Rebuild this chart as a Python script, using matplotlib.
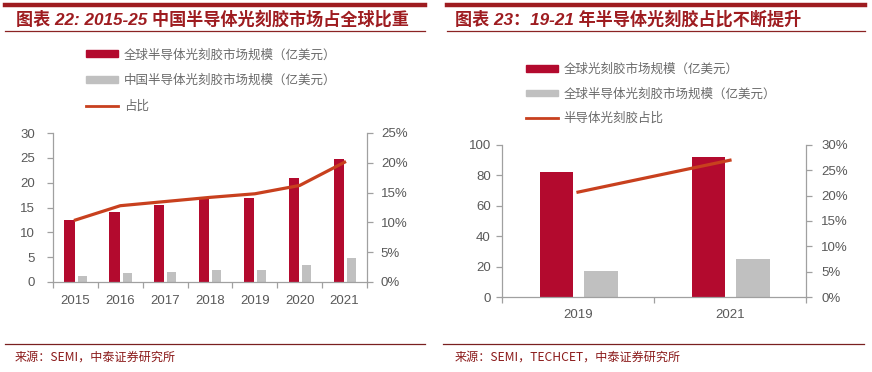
import numpy as np
import matplotlib.pyplot as plt
from matplotlib.lines import Line2D
from matplotlib.patches import Patch
from matplotlib.ticker import PercentFormatter

plt.rcParams['font.family'] = ['Liberation Sans', 'Noto Sans CJK SC', 'DejaVu Sans']

# left chart data
years_l = ["2015", "2016", "2017", "2018", "2019", "2020", "2021"]
global_l = [12.5, 14.0, 15.5, 17.0, 17.0, 21.0, 24.7]
china_l = [1.2, 1.8, 2.1, 2.5, 2.5, 3.4, 4.9]
share_l = [10.4, 12.8, 13.5, 14.2, 14.8, 16.2, 20.1]

# right chart data
years_r = ["2019", "2021"]
resist_r = [82, 92]
semi_r = [17, 25]
share_r = [20.7, 27.0]

RED = "#B30A2E"
GRAY = "#C0C0C0"
LINE = "#C8401E"
TXT = "#595959"
LEGTXT = "#6A6A6A"
SPINE = "#A0A0A0"
TITLE = "#9E1C20"

W, H = 872, 372
fig = plt.figure(figsize=(W / 100, H / 100), dpi=100)


def box(x0, y0, x1, y1):
    # pixel box (top-left origin) -> figure fraction rect
    return [x0 / W, 1 - y1 / H, (x1 - x0) / W, (y1 - y0) / H]


def hline(x0, x1, y, lw, color):
    fig.add_artist(Line2D([x0 / W, x1 / W], [1 - y / H, 1 - y / H],
                          transform=fig.transFigure, lw=lw, color=color))


def style(ax, ax2, n, ypad, rpad):
    for a in (ax, ax2):
        a.spines["top"].set_visible(False)
        for s in ("left", "right", "bottom"):
            a.spines[s].set_color(SPINE)
            a.spines[s].set_linewidth(0.9)
    ax.spines["right"].set_visible(False)
    ax2.spines["left"].set_visible(False)
    ax2.spines["bottom"].set_visible(False)
    ax.set_xlim(-0.5, n - 0.5)
    ax.set_xticks(np.arange(n))
    ax.set_xticks(np.arange(n + 1) - 0.5, minor=True)
    ax.tick_params(axis="x", which="major", length=0, pad=9,
                   labelsize=9.5, labelcolor=TXT)
    ax.tick_params(axis="x", which="minor", length=4, color=SPINE, width=0.9)
    ax.tick_params(axis="y", length=4, color=SPINE, width=0.9, pad=ypad,
                   labelsize=9.5, labelcolor=TXT)
    ax2.tick_params(axis="y", length=4, color=SPINE, width=0.9, pad=rpad,
                    labelsize=9.5, labelcolor=TXT)
    ax2.yaxis.set_major_formatter(PercentFormatter(decimals=0))


def legend(labels, x, y, spacing):
    fig.legend([Patch(color=RED), Patch(color=GRAY), Line2D([], [], color=LINE, lw=2)],
               labels, loc="upper left", bbox_to_anchor=(x / W, 1 - y / H),
               frameon=False, prop={"family": "Noto Sans CJK SC", "size": 9},
               labelcolor=LEGTXT, handlelength=2.5, handleheight=0.45,
               handletextpad=0.5, labelspacing=spacing)


# ---------- left panel ----------
ax = fig.add_axes(box(53, 133, 367, 282))
ax2 = ax.twinx()
x = np.arange(len(years_l))
ax.bar(x - 0.13, global_l, width=0.23, color=RED, zorder=2)
ax.bar(x + 0.15, china_l, width=0.20, color=GRAY, zorder=2)
ax2.plot(x, share_l, color=LINE, lw=2.3, zorder=3)
ax.set_ylim(0, 30)
ax.set_yticks(range(0, 31, 5))
ax2.set_ylim(0, 25)
ax2.set_yticks(range(0, 26, 5))
ax.set_xticklabels(years_l)
style(ax, ax2, len(years_l), 9, 6)

legend(["全球半导体光刻胶市场规模（亿美元）", "中国半导体光刻胶市场规模（亿美元）", "占比"],
       75, 37, 1.02)

# ---------- right panel ----------
bx = fig.add_axes(box(502, 145, 806, 297))
bx2 = bx.twinx()
xr = np.arange(len(years_r))
bx.bar(xr - 0.14, resist_r, width=0.22, color=RED, zorder=2)
bx.bar(xr + 0.15, semi_r, width=0.22, color=GRAY, zorder=2)
bx2.plot(xr, share_r, color=LINE, lw=2.3, zorder=3)
bx.set_ylim(0, 100)
bx.set_yticks(range(0, 101, 20))
bx2.set_ylim(0, 30)
bx2.set_yticks(range(0, 31, 5))
bx.set_xticklabels(years_r)
style(bx, bx2, len(years_r), 4, 7)

legend(["全球光刻胶市场规模（亿美元）", "全球半导体光刻胶市场规模（亿美元）", "半导体光刻胶占比"],
       515, 52, 0.9)

# ---------- titles, rules, sources ----------
hline(5, 425, 4.5, 3.2, TITLE)
hline(447, 865, 4.5, 3.2, TITLE)
hline(5, 425, 31, 0.9, "#8B2323")
hline(447, 865, 31, 0.9, "#8B2323")
fig.text(16 / W, 1 - 19 / H, "图表 22: 2015-25 中国半导体光刻胶市场占全球比重",
         family=["Liberation Sans", "Noto Sans CJK SC", "DejaVu Sans"], weight="bold",
         size=12.3, color=TITLE, va="center", ha="left", style="italic")
fig.text(455 / W, 1 - 19 / H, "图表 23：19-21 年半导体光刻胶占比不断提升",
         family=["Liberation Sans", "Noto Sans CJK SC", "DejaVu Sans"], weight="bold",
         size=12.3, color=TITLE, va="center", ha="left", style="italic")

hline(5, 425, 344, 0.9, "#7A2020")
hline(443, 864, 344, 0.9, "#7A2020")
fig.text(15 / W, 1 - 357 / H, "来源：SEMI，中泰证券研究所",
         family=["Noto Sans CJK SC", "DejaVu Sans"], size=8.7, color="#8B1A1A",
         va="center", ha="left")
fig.text(455 / W, 1 - 357 / H, "来源：SEMI，TECHCET，中泰证券研究所",
         family=["Noto Sans CJK SC", "DejaVu Sans"], size=8.7, color="#8B1A1A",
         va="center", ha="left")

fig.savefig("out.png", dpi=100, facecolor="white")
